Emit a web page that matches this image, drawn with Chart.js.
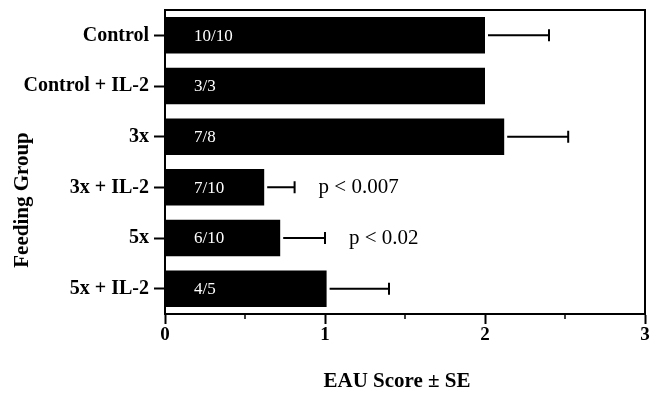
<!DOCTYPE html>
<html>
<head>
<meta charset="utf-8">
<script src="https://cdn.jsdelivr.net/npm/chart.js@4/dist/chart.umd.min.js"></script>
<style>
  html, body { margin: 0; padding: 0; background: #fff; }
  canvas { display: block; }
</style>
</head>
<body>
<canvas id="chart" width="653" height="399"></canvas>
<script>
// Feeding groups and mean EAU score with standard error
const groups = ['Control', 'Control + IL-2', '3x', '3x + IL-2', '5x', '5x + IL-2'];
const eauScore = [2.0, 2.0, 2.12, 0.62, 0.72, 1.01];
const scoreSE = [0.4, null, 0.4, 0.19, 0.28, 0.39];
const incidence = ['10/10', '3/3', '7/8', '7/10', '6/10', '4/5'];
const pValues = ['', '', '', 'p < 0.007', 'p < 0.02', ''];
const xTicks = [0, 1, 2, 3];
const xTitle = 'EAU Score ± SE';
const yTitle = 'Feeding Group';

const SERIF = "'Liberation Serif', 'Times New Roman', Times, serif";
const INK = '#000';

// Error bars, incidence labels inside bars, p-values, minor ticks, frame and axis titles
const annotations = {
  id: 'annotations',
  afterDatasetsDraw(chart) {
    const { ctx, chartArea: a } = chart;
    const xs = chart.scales.x, ys = chart.scales.y;
    ctx.save();
    ctx.strokeStyle = INK;
    ctx.fillStyle = INK;
    ctx.lineWidth = 2;

    eauScore.forEach((v, i) => {
      const y = ys.getPixelForValue(i);
      const x0 = xs.getPixelForValue(0);
      const xEnd = xs.getPixelForValue(v);
      let xLast = xEnd;
      if (scoreSE[i] != null) {
        const xErr = xs.getPixelForValue(v + scoreSE[i]);
        ctx.beginPath();
        ctx.moveTo(xEnd + 3, y);
        ctx.lineTo(xErr, y);
        ctx.moveTo(xErr, y - 6);
        ctx.lineTo(xErr, y + 6);
        ctx.stroke();
        xLast = xErr;
      }
      // incidence inside the bar
      ctx.fillStyle = '#fff';
      ctx.font = `17px ${SERIF}`;
      ctx.textAlign = 'left';
      ctx.textBaseline = 'middle';
      ctx.fillText(incidence[i], x0 + 29, y + 1);
      // significance next to the error bar
      if (pValues[i]) {
        ctx.fillStyle = INK;
        ctx.font = `21px ${SERIF}`;
        ctx.fillText(pValues[i], xLast + 24, y);
      }
    });

    // minor ticks at half units
    ctx.lineWidth = 1.5;
    ctx.beginPath();
    [0.5, 1.5, 2.5].forEach(t => {
      const x = xs.getPixelForValue(t);
      ctx.moveTo(x, a.bottom);
      ctx.lineTo(x, a.bottom + 5);
    });
    ctx.stroke();

    // top and right sides of the frame
    ctx.lineWidth = 2;
    ctx.beginPath();
    ctx.moveTo(a.left, a.top);
    ctx.lineTo(a.right, a.top);
    ctx.lineTo(a.right, a.bottom);
    ctx.stroke();

    // axis titles
    ctx.fillStyle = INK;
    ctx.font = `bold 21px ${SERIF}`;
    ctx.textAlign = 'center';
    ctx.textBaseline = 'middle';
    ctx.fillText(xTitle, 397, 382);
    ctx.translate(23, 200);
    ctx.rotate(-Math.PI / 2);
    ctx.fillText(yTitle, 0, 0);
    ctx.restore();
  }
};

new Chart(document.getElementById('chart'), {
  type: 'bar',
  data: {
    labels: groups,
    datasets: [{
      data: eauScore,
      backgroundColor: INK,
      borderWidth: 0
    }]
  },
  options: {
    indexAxis: 'y',
    responsive: false,
    animation: false,
    layout: { padding: { left: 0, right: 8, top: 10, bottom: 0 } },
    plugins: { legend: { display: false }, tooltip: { enabled: false } },
    scales: {
      x: {
        type: 'linear',
        min: 0,
        max: 3,
        afterFit(scale) { scale.height = 85; },
        afterBuildTicks(scale) {
          scale.ticks = [0, 0.5, 1, 1.5, 2, 2.5, 3].map(v => ({ value: v }));
        },
        ticks: {
          color: INK,
          font: { family: SERIF, size: 19, weight: 'bold' },
          padding: 0,
          callback: v => (xTicks.includes(v) ? String(v) : '')
        },
        grid: {
          drawOnChartArea: false,
          tickLength: 10,
          tickWidth: 2,
          tickColor: c => (c.tick && xTicks.includes(c.tick.value) ? INK : 'rgba(0,0,0,0)')
        },
        border: { display: true, color: INK, width: 2 }
      },
      y: {
        afterFit(scale) {
          scale.width = 165;
          scale.paddingTop = 0;
          scale.paddingBottom = 0;
        },
        ticks: {
          color: INK,
          font: { family: SERIF, size: 20, weight: 'bold' },
          padding: 5
        },
        grid: {
          offset: false,
          drawOnChartArea: false,
          tickLength: 11,
          tickWidth: 2,
          tickColor: INK
        },
        border: { display: true, color: INK, width: 2 }
      }
    }
  },
  plugins: [annotations]
});
</script>
</body>
</html>
